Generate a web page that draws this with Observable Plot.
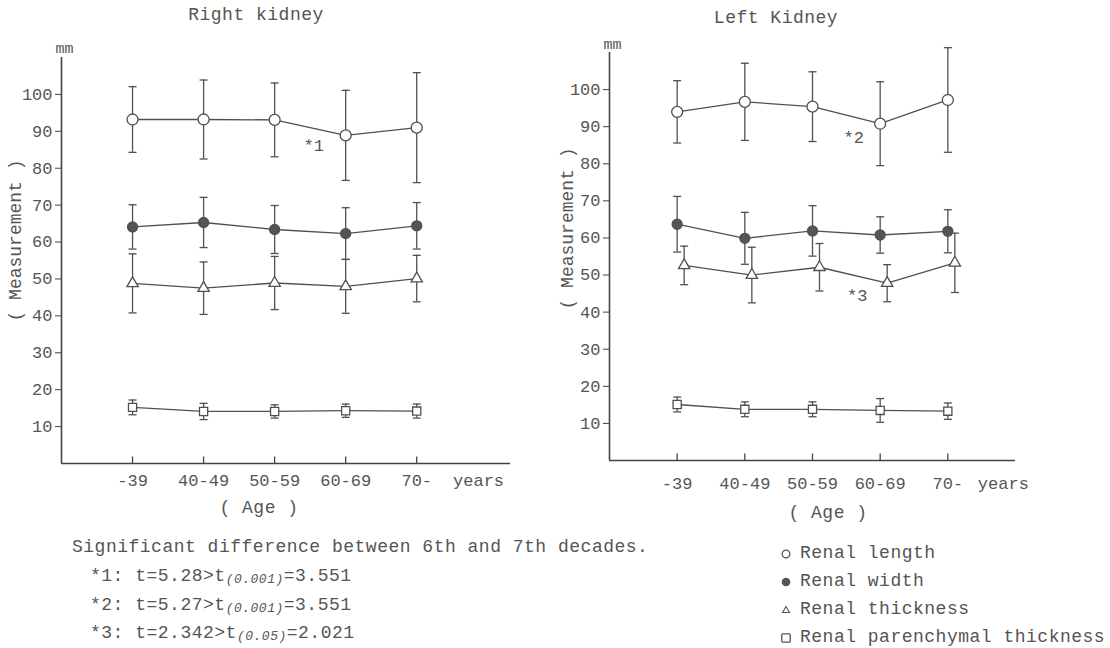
<!DOCTYPE html>
<html><head><meta charset="utf-8">
<script src="https://cdn.jsdelivr.net/npm/d3@7"></script>
<script src="https://cdn.jsdelivr.net/npm/@observablehq/plot@0.6"></script>
<style>
body{margin:0;background:#fff;font-family:"Liberation Mono",monospace;color:#555;}
#wrap{position:relative;width:1110px;height:648px;overflow:hidden;background:#fff}
.abs{position:absolute;white-space:nowrap;line-height:20px;font-size:18px;letter-spacing:0.5px}
.ctr{transform:translateX(-50%)}
.sub{font-style:italic;font-size:13px;letter-spacing:0.5px;vertical-align:-2px}
.leg svg{position:absolute;left:-20px;top:5px}
</style></head><body><div id="wrap"></div>
<script>
// ---- data (mean and SD in mm) ----
const ages = ["-39", "40-49", "50-59", "60-69", "70-"];
const seriesNames = ["Renal length", "Renal width", "Renal thickness", "Renal parenchymal thickness"];
const yTicks = [10, 20, 30, 40, 50, 60, 70, 80, 90, 100];

// Right kidney
const rightLength   = [93.2, 93.2, 93.1, 88.9, 91.0];
const rightLengthSD = [8.9, 10.7, 10.0, 12.2, 14.9];
const rightWidth    = [64.1, 65.3, 63.4, 62.3, 64.4];
const rightWidthSD  = [6.0, 6.8, 6.5, 7.0, 6.3];
const rightThick    = [48.8, 47.5, 48.9, 48.0, 50.1];
const rightThickSD  = [8.0, 7.1, 7.2, 7.3, 6.3];
const rightParen    = [15.2, 14.1, 14.1, 14.3, 14.2];
const rightParenSD  = [2.0, 2.2, 1.8, 1.8, 1.9];

// Left kidney
const leftLength   = [94.0, 96.7, 95.4, 90.8, 97.2];
const leftLengthSD = [8.4, 10.4, 9.4, 11.3, 14.1];
const leftWidth    = [63.7, 59.9, 61.9, 60.8, 61.8];
const leftWidthSD  = [7.5, 7.0, 6.8, 4.9, 5.8];
const leftThick    = [52.6, 50.0, 52.1, 47.8, 53.3];
const leftThickSD  = [5.2, 7.5, 6.4, 5.0, 8.0];
const leftParen    = [15.1, 13.8, 13.8, 13.5, 13.3];
const leftParenSD  = [2.0, 2.0, 2.0, 3.2, 2.2];

// ---- helpers ----
const INK = "#505050";
const rows = (m, sd) => ages.map((a, i) => ({age: a, k: i + 1, mean: m[i], sd: sd[i]}));
const styles = {
  "Renal length": {symbol: "circle", r: 5.5, fill: "#fff"},
  "Renal width": {symbol: "circle", r: 5, fill: "#555"},
  "Renal thickness": {symbol: "triangle", r: 4.2, fill: "#fff"},
  "Renal parenchymal thickness": {symbol: "square", r: 4.6, fill: "#fff"}
};
const cap = {draw(ctx) { ctx.moveTo(-4, 0); ctx.lineTo(4, 0); }};
const upTick = {draw(ctx) { ctx.moveTo(0, 0); ctx.lineTo(0, -7); }};

function panel(cfg) {
  const marks = [];
  for (const s of cfg.series) {
    const dx = s.dx || 0;
    marks.push(Plot.line(s.rows, {x: "k", y: "mean", stroke: INK, strokeWidth: 1.3, dx}));
    marks.push(Plot.ruleX(s.rows, {x: "k", y1: d => d.mean - d.sd, y2: d => d.mean + d.sd, stroke: INK, strokeWidth: 1.3, dx}));
    marks.push(Plot.dot(s.rows, {x: "k", y: d => d.mean - d.sd, symbol: cap, fill: "none", stroke: INK, strokeWidth: 1.3, dx}));
    marks.push(Plot.dot(s.rows, {x: "k", y: d => d.mean + d.sd, symbol: cap, fill: "none", stroke: INK, strokeWidth: 1.3, dx}));
  }
  for (const s of cfg.series) {
    const st = styles[s.name];
    marks.push(Plot.dot(s.rows, {x: "k", y: "mean", symbol: st.symbol, r: st.r, fill: st.fill, stroke: INK, strokeWidth: 1.3, dx: s.dx || 0}));
  }
  for (const n of cfg.notes) {
    marks.push(Plot.text([n], {x: n.k, y: n.y, text: d => d.label, fontSize: 17, fill: "#555", dx: n.dx || 0, dy: n.dy || 0}));
  }
  return Plot.plot({
    width: cfg.width, height: cfg.height,
    marginLeft: cfg.ml, marginRight: cfg.mr, marginTop: cfg.mt, marginBottom: cfg.mb,
    x: {type: "linear", domain: [0, cfg.xmax]},
    y: {domain: [0, 110]},
    style: {fontFamily: "Liberation Mono, monospace", fontSize: "17px", color: "#555", background: "transparent", overflow: "visible"},
    marks: [
      Plot.ruleX([0], {stroke: "#444", strokeWidth: 1.6}),
      Plot.ruleY([0], {stroke: "#444", strokeWidth: 1.6}),
      Plot.axisY({ticks: yTicks, tickSize: 6, tickPadding: 3, label: null, stroke: "#444"}),
      Plot.axisX({ticks: [1, 2, 3, 4, 5], tickFormat: k => ages[k - 1], tickSize: 0, tickPadding: cfg.tp, label: null}),
      Plot.dot([1, 2, 3, 4, 5], {x: d => d, y: 0, symbol: upTick, fill: "none", stroke: "#444", strokeWidth: 1.3}),
      Plot.text(["years"], {x: cfg.yearsX, y: 0, text: d => d, dy: cfg.tp + 7, fontSize: 17, fill: "#555"}),
      Plot.text(["mm"], {frameAnchor: "top-left", text: d => d, dx: -6, dy: cfg.mmDy, fontSize: 15, fill: "#555"}),
      Plot.text(["( Measurement )"], {frameAnchor: "left", text: d => d, rotate: -90, dx: cfg.ylDx, dy: cfg.ylDy, fontSize: 18, fill: "#555"}),
      ...marks
    ]
  });
}

const wrap = document.getElementById("wrap");
function place(node, left, top) {
  node.style.position = "absolute"; node.style.left = left + "px"; node.style.top = top + "px";
  wrap.appendChild(node);
}

const rightPanel = panel({
  width: 540, height: 500, ml: 61, mr: 30, mt: 57, mb: 37, xmax: 6.32, tp: 10, yearsX: 5.87,
  mmDy: -15, ylDx: -46, ylDy: 61,
  series: [
    {name: seriesNames[0], rows: rows(rightLength, rightLengthSD)},
    {name: seriesNames[1], rows: rows(rightWidth, rightWidthSD)},
    {name: seriesNames[2], rows: rows(rightThick, rightThickSD)},
    {name: seriesNames[3], rows: rows(rightParen, rightParenSD)}
  ],
  notes: [{label: "*1", k: 3.55, y: 86.2}]
});
place(rightPanel, 0, 0);

const leftPanel = panel({
  width: 570, height: 500, ml: 69, mr: 95, mt: 52, mb: 40, xmax: 6, tp: 16, yearsX: 5.82,
  mmDy: -14, ylDx: -42, ylDy: 53,
  series: [
    {name: seriesNames[0], rows: rows(leftLength, leftLengthSD)},
    {name: seriesNames[1], rows: rows(leftWidth, leftWidthSD)},
    {name: seriesNames[2], rows: rows(leftThick, leftThickSD), dx: 7},
    {name: seriesNames[3], rows: rows(leftParen, leftParenSD)}
  ],
  notes: [{label: "*2", k: 3.61, y: 87.2}, {label: "*3", k: 3.66, y: 44.6}]
});
place(leftPanel, 540, 0);

function html(str, left, top, cls) {
  const d = document.createElement("div");
  d.className = "abs " + (cls || "");
  d.innerHTML = str;
  d.style.left = left + "px"; d.style.top = top + "px";
  wrap.appendChild(d);
  return d;
}
html("Right kidney", 256, 5, "ctr");
html("Left Kidney", 776, 8, "ctr");
html("( Age )", 259, 498, "ctr");
html("( Age )", 828, 503, "ctr");

html("Significant difference between 6th and 7th decades.", 72, 537);
html('*1: t=5.28&gt;t<span class="sub">(0.001)</span>=3.551', 90, 566);
html('*2: t=5.27&gt;t<span class="sub">(0.001)</span>=3.551', 90, 595);
html('*3: t=2.342&gt;t<span class="sub">(0.05)</span>=2.021', 90, 623);

const legSyms = [
  '<svg width="12" height="12"><circle cx="6" cy="6" r="3.8" fill="#fff" stroke="#555" stroke-width="1.3"/></svg>',
  '<svg width="12" height="12"><circle cx="6" cy="6" r="4.3" fill="#555"/></svg>',
  '<svg width="12" height="12"><path d="M6,2.5L9.5,8.5H2.5Z" fill="#fff" stroke="#555" stroke-width="1.1"/></svg>',
  '<svg width="12" height="12"><rect x="1.8" y="1.8" width="8.4" height="8.4" fill="#fff" stroke="#555" stroke-width="1.3" rx="1"/></svg>'
];
const legY = [543, 571, 599, 627];
seriesNames.forEach((n, i) => {
  html(legSyms[i] + n, 800, legY[i], "leg");
});
</script></body></html>
